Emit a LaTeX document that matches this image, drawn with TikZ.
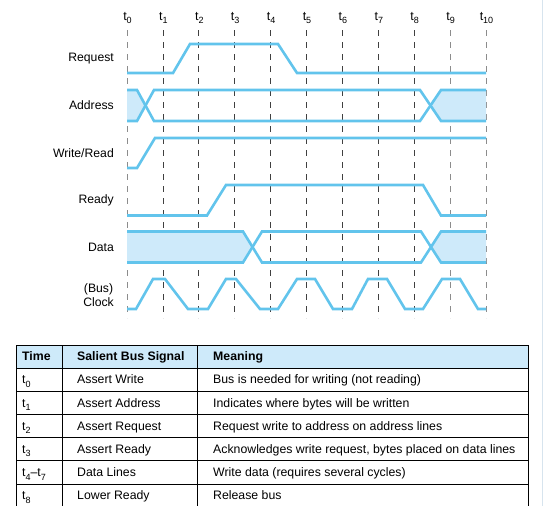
\documentclass[tikz,border=0pt]{standalone}
\usepackage{fontspec}
\setmainfont{Liberation Sans}
\definecolor{sig}{RGB}{98,196,236}
\definecolor{shade}{RGB}{206,234,250}
\definecolor{edge}{RGB}{215,228,238}
\newcommand{\tidx}[1]{t\raisebox{-.28em}{\fontsize{9}{9}\selectfont #1}}

\begin{document}
\begin{tikzpicture}[x=1pt,y=-1pt,
  wave/.style={sig,line width=2.6pt},
  bus/.style={fill=shade},
  tickln/.style={line width=.8pt,dash pattern=on 6pt off 6pt},
  lab/.style={anchor=east,align=center,inner sep=0pt,font=\fontsize{12.2}{14}\selectfont},
  tlab/.style={inner sep=0pt,font=\fontsize{12.5}{14}\selectfont},
  cell/.style={anchor=base west,inner sep=0pt,font=\fontsize{12.3}{14}\selectfont},
  head/.style={cell,font=\fontsize{12.3}{14}\selectfont\bfseries},
  rule/.style={black,line width=.8pt}]
\useasboundingbox (0,0) rectangle (544,506);
\draw[edge,line width=1.2pt] (542.5,0)--(542.5,506);

% time marks
\foreach \i/\tone in {0/45,1/75,2/75,3/75,4/75,5/75,6/75,7/75,8/75,9/45,10/45}{
  \node[tlab] (t\i) at (127.5+35.9*\i,18) {\tidx{\i}};
  \coordinate (top\i) at (127+35.9*\i,30);
  \coordinate (bot\i) at (127+35.9*\i,318);
  \draw[tickln,black!\tone] (top\i)--(bot\i);
}

% signal names
\node[lab] (req) at (114,59) {Request};
\node[lab] (adr) at (114,105) {Address};
\node[lab] (wr) at (114,153) {Write/Read};
\node[lab] (rdy) at (114,200) {Ready};
\node[lab] (dat) at (114,247) {Data};
\node[lab] (clk) at (114,294.7) {(Bus)\\Clock};

% shaded bus values
\fill[bus] (127,90)--(137,90)--(145.5,105.5)--(137,121)--(127,121)--cycle;
\fill[bus] (430.5,105.5)--(441,90)--(486,90)--(486,121)--(441,121)--cycle;
\fill[bus] (127,231.5)--(243,231.5)--(252.5,247)--(243,262.5)--(127,262.5)--cycle;
\fill[bus] (431,247)--(441,231.5)--(486,231.5)--(486,262.5)--(441,262.5)--cycle;

% waveforms
\draw[wave] (127,73)--(173,73)--(190,44)--(278,44)--(297,73)--(486,73);
\draw[wave] (127,90)--(137,90)--(154,121)--(420,121)--(441,90)--(486,90);
\draw[wave] (127,121)--(137,121)--(154,90)--(420,90)--(441,121)--(486,121);
\draw[wave] (127,168)--(137,168)--(155,138)--(486,138);
\draw[wave] (127,215.5)--(207,215.5)--(226,185)--(423,185)--(441,215.5)--(486,215.5);
\draw[wave] (127,231.5)--(243,231.5)--(262,262.5)--(421,262.5)--(441,231.5)--(486,231.5);
\draw[wave] (127,262.5)--(243,262.5)--(262,231.5)--(421,231.5)--(441,262.5)--(486,262.5);
\draw[wave] (127,309)--(136,309)--(153,279)--(165,279)--(188,309)--(208,309)--(226,279)
  --(236,279)--(260,309)--(278,309)--(297,279)--(315,279)--(333,309)--(352,309)
  --(368,279)--(387,279)--(405,309)--(423,309)--(442,279)--(460,279)--(478,309)--(486,309);

% table
\draw[rule,fill=shade] (16,345) rectangle (528.5,368);
\foreach \n in {1,...,5}
  \draw[rule] (16,368+23.2*\n)--(528.5,368+23.2*\n);
\foreach \xc in {16,62,197,528.5}
  \draw[rule] (\xc,345)--(\xc,506);
\node[head] (htime) at (22,360.7) {Time};
\node[head] (hsig) at (77,360.7) {Salient Bus Signal};
\node[head] (hmean) at (213,360.7) {Meaning};
\foreach \tm/\sg/\mn [count=\n] in {
  {\tidx{0}}/{Assert Write}/{Bus is needed for writing (not reading)},
  {\tidx{1}}/{Assert Address}/{Indicates where bytes will be written},
  {\tidx{2}}/{Assert Request}/{Request write to address on address lines},
  {\tidx{3}}/{Assert Ready}/{Acknowledges write request, bytes placed on data lines},
  {\tidx{4}--\tidx{7}}/{Data Lines}/{Write data (requires several cycles)},
  {\tidx{8}}/{Lower Ready}/{Release bus}}{
  \node[cell] (tm\n) at (22,368+23.2*\n-7.4) {\tm};
  \node[cell] (sg\n) at (77,368+23.2*\n-7.4) {\sg};
  \node[cell] (mn\n) at (213,368+23.2*\n-7.4) {\mn};
}
\end{tikzpicture}
\end{document}
